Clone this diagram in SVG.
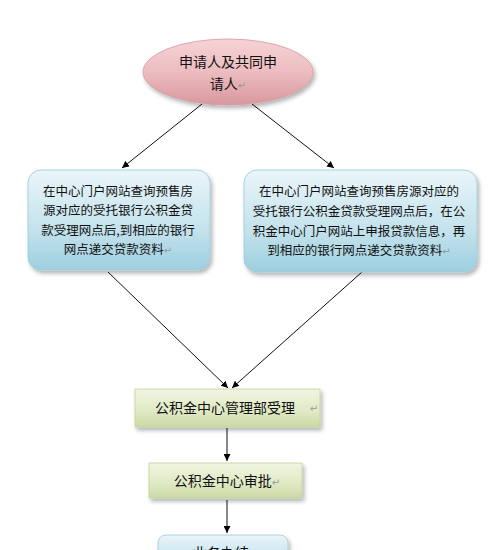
<svg xmlns="http://www.w3.org/2000/svg" width="500" height="550" viewBox="0 0 500 550">
<defs>
<linearGradient id="gPink" x1="0" y1="0" x2="0" y2="1">
<stop offset="0" stop-color="#f6d3d5"/><stop offset="0.5" stop-color="#ecbcc0"/><stop offset="1" stop-color="#d8989e"/>
</linearGradient>
<linearGradient id="gBlue" x1="0" y1="0" x2="0" y2="1">
<stop offset="0" stop-color="#eaf5f9"/><stop offset="0.6" stop-color="#c3e2ec"/><stop offset="1" stop-color="#9dcfdf"/>
</linearGradient>
<linearGradient id="gGreen" x1="0" y1="0" x2="0" y2="1">
<stop offset="0" stop-color="#f1f5e2"/><stop offset="0.6" stop-color="#dfe9c3"/><stop offset="1" stop-color="#c9d9a4"/>
</linearGradient>
<filter id="sh" x="-10%" y="-10%" width="125%" height="130%">
<feGaussianBlur in="SourceAlpha" stdDeviation="2"/>
<feOffset dx="2" dy="3"/>
<feComponentTransfer><feFuncA type="linear" slope="0.3"/></feComponentTransfer>
<feMerge><feMergeNode/><feMergeNode in="SourceGraphic"/></feMerge>
</filter>
<marker id="arr" viewBox="0 0 10 10" refX="10" refY="5" markerWidth="7" markerHeight="7" orient="auto" markerUnits="userSpaceOnUse">
<path d="M0,0 L10,5 L0,10 Z" fill="#000"/>
</marker>
</defs>
<style>
text{font-family:"Noto Sans CJK SC","Liberation Sans",sans-serif;fill:#111;text-anchor:middle}
.t14{font-size:14px}
.t12{font-size:12.5px}
.pm{fill:#999;font-family:"DejaVu Sans",sans-serif;font-size:10px}
.ln{stroke:#111;stroke-width:1;fill:none;marker-end:url(#arr)}
</style>
<rect width="500" height="550" fill="#fff"/>
<g id="connectors">
<line class="ln" x1="202" y1="104" x2="122" y2="168"/>
<line class="ln" x1="252" y1="104" x2="334" y2="168"/>
<line class="ln" x1="108" y1="272" x2="228" y2="388"/>
<line class="ln" x1="362" y1="272" x2="232" y2="388"/>
<line class="ln" x1="227" y1="428" x2="227" y2="461"/>
<line class="ln" x1="227" y1="500" x2="227" y2="533"/>
</g>
<g id="n1">
<ellipse cx="228" cy="72" rx="85" ry="33" fill="url(#gPink)" stroke="#d49aa0" stroke-width="0.8" filter="url(#sh)"/>
<text class="t14" x="228" y="67">申请人及共同申</text>
<text class="t14" x="228" y="89">请人<tspan class="pm">↵</tspan></text>
</g>
<g id="n2">
<rect x="28" y="170" width="182" height="100" rx="13" fill="url(#gBlue)" stroke="#9ccadb" stroke-width="0.8" filter="url(#sh)"/>
<text class="t12" x="118" y="196">在中心门户网站查询预售房</text>
<text class="t12" x="118" y="215">源对应的受托银行公积金贷</text>
<text class="t12" x="118" y="235">款受理网点后,到相应的银行</text>
<text class="t12" x="118" y="254">网点递交贷款资料<tspan class="pm">↵</tspan></text>
</g>
<g id="n3">
<rect x="244" y="170" width="233" height="102" rx="13" fill="url(#gBlue)" stroke="#9ccadb" stroke-width="0.8" filter="url(#sh)"/>
<text class="t12" x="359" y="196">在中心门户网站查询预售房源对应的</text>
<text class="t12" x="359" y="216">受托银行公积金贷款受理网点后，在公</text>
<text class="t12" x="359" y="236">积金中心门户网站上申报贷款信息，再</text>
<text class="t12" x="359" y="255">到相应的银行网点递交贷款资料<tspan class="pm">↵</tspan></text>
</g>
<g id="n4">
<rect x="135" y="389" width="185" height="38" fill="url(#gGreen)" stroke="#c3d39c" stroke-width="0.8" filter="url(#sh)"/>
<text class="t14" x="225" y="413">公积金中心管理部受理</text>
<text class="pm" x="314" y="412">↵</text>
</g>
<g id="n5">
<rect x="149" y="463" width="153" height="35" fill="url(#gGreen)" stroke="#c3d39c" stroke-width="0.8" filter="url(#sh)"/>
<text class="t14" x="227" y="486">公积金中心审批<tspan class="pm">↵</tspan></text>
</g>
<g id="n6">
<rect x="158" y="535" width="130" height="40" rx="8" fill="url(#gBlue)" stroke="#9ccadb" stroke-width="0.8" filter="url(#sh)"/>
<text class="t14" x="225" y="558">业务办结<tspan class="pm">↵</tspan></text>
</g>
</svg>
